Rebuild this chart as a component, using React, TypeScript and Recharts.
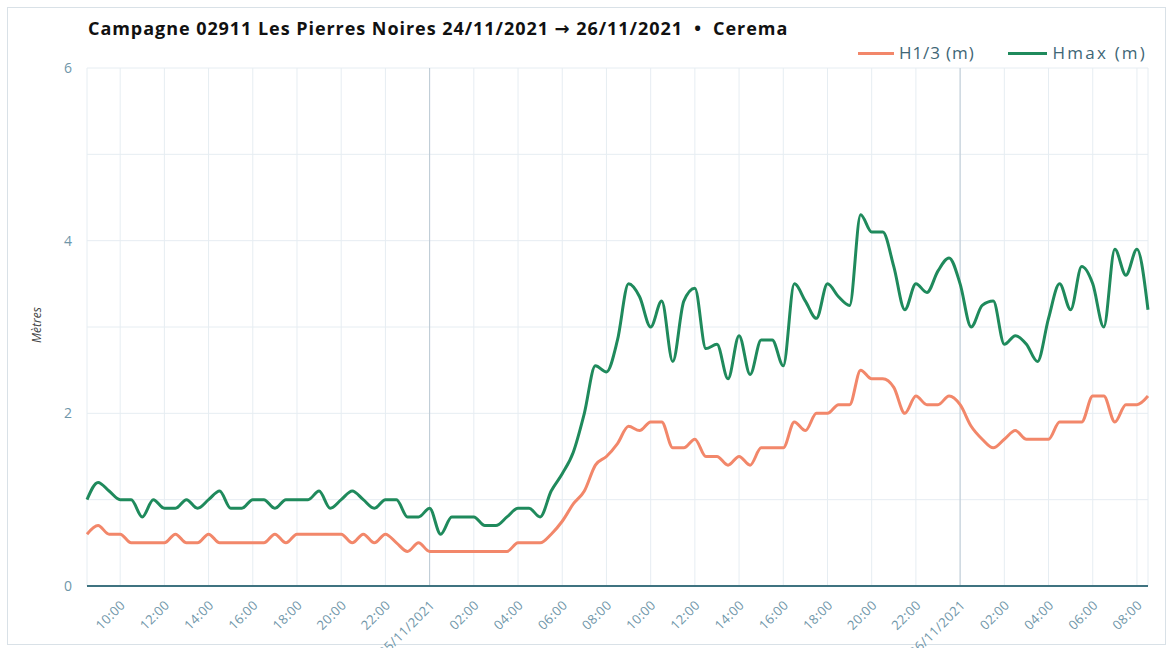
import React from 'react';
import { LineChart, Line, XAxis, YAxis, CartesianGrid, ReferenceLine } from 'recharts';

// 24/11/2021 08:30 -> 26/11/2021 08:30, one value every 30 minutes (hours since 24/11 00:00)
const startHour = 8.5;
const stepHours = 0.5;

const h13Values = [
  0.6, 0.7, 0.6, 0.6, 0.5, 0.5, 0.5, 0.5, 0.6, 0.5,
  0.5, 0.6, 0.5, 0.5, 0.5, 0.5, 0.5, 0.6, 0.5, 0.6,
  0.6, 0.6, 0.6, 0.6, 0.5, 0.6, 0.5, 0.6, 0.5, 0.4,
  0.5, 0.4, 0.4, 0.4, 0.4, 0.4, 0.4, 0.4, 0.4, 0.5,
  0.5, 0.5, 0.6, 0.75, 0.95, 1.1, 1.4, 1.5, 1.65, 1.85,
  1.8, 1.9, 1.9, 1.6, 1.6, 1.7, 1.5, 1.5, 1.4, 1.5,
  1.4, 1.6, 1.6, 1.6, 1.9, 1.8, 2.0, 2.0, 2.1, 2.1,
  2.5, 2.4, 2.4, 2.3, 2.0, 2.2, 2.1, 2.1, 2.2, 2.1,
  1.85, 1.7, 1.6, 1.7, 1.8, 1.7, 1.7, 1.7, 1.9, 1.9,
  1.9, 2.2, 2.2, 1.9, 2.1, 2.1, 2.2,
];

const hmaxValues = [
  1.0, 1.2, 1.1, 1.0, 1.0, 0.8, 1.0, 0.9, 0.9, 1.0,
  0.9, 1.0, 1.1, 0.9, 0.9, 1.0, 1.0, 0.9, 1.0, 1.0,
  1.0, 1.1, 0.9, 1.0, 1.1, 1.0, 0.9, 1.0, 1.0, 0.8,
  0.8, 0.9, 0.6, 0.8, 0.8, 0.8, 0.7, 0.7, 0.8, 0.9,
  0.9, 0.8, 1.1, 1.3, 1.55, 2.0, 2.55, 2.48, 2.85, 3.5,
  3.35, 3.0, 3.3, 2.6, 3.3, 3.45, 2.75, 2.8, 2.4, 2.9,
  2.45, 2.85, 2.85, 2.55, 3.5, 3.3, 3.1, 3.5, 3.35, 3.25,
  4.3, 4.1, 4.1, 3.7, 3.2, 3.5, 3.4, 3.65, 3.8, 3.5,
  3.0, 3.25, 3.3, 2.8, 2.9, 2.8, 2.6, 3.1, 3.5, 3.2,
  3.7, 3.5, 3.0, 3.9, 3.6, 3.9, 3.2,
];

const tickHours = [10, 12, 14, 16, 18, 20, 22, 24, 26, 28, 30, 32, 34, 36, 38, 40, 42, 44, 46, 48, 50, 52, 54, 56];
const tickLabels = [
  '10:00', '12:00', '14:00', '16:00', '18:00', '20:00', '22:00', '25/11/2021',
  '02:00', '04:00', '06:00', '08:00', '10:00', '12:00', '14:00', '16:00', '18:00', '20:00', '22:00', '26/11/2021',
  '02:00', '04:00', '06:00', '08:00',
];
const yTicks = [0, 2, 4, 6];
const dayBoundaries = [24, 48];

const data = h13Values.map((v, i) => ({
  t: startHour + i * stepHours,
  h13: v,
  hmax: hmaxValues[i],
}));

const FONT = '"Open Sans", "DejaVu Sans", sans-serif';
const ORANGE = '#f2876a';
const GREEN = '#1f8a5c';
const TICK = '#6f96a9';

const XTick = (props: any) => {
  const { x, y, payload } = props;
  const idx = tickHours.indexOf(payload.value);
  const label = idx >= 0 ? tickLabels[idx] : '';
  const ax = x + 6;
  const ay = y + 12;
  return (
    <text
      x={ax}
      y={ay}
      transform={`rotate(-45 ${ax} ${ay})`}
      textAnchor="end"
      fill={TICK}
      fontSize={13}
      letterSpacing={0.4}
      fontFamily={FONT}
    >
      {label}
    </text>
  );
};

export default function App() {
  return (
    <div style={{ position: 'absolute', left: 0, top: 0, width: 1171, height: 648, background: '#fff', overflow: 'hidden' }}>
      <div style={{ position: 'absolute', left: 7, top: 7, width: 1157, height: 636, border: '1px solid #d9e1e7' }} />
      <div
        style={{
          position: 'absolute', left: 88, top: 15, fontFamily: FONT, fontWeight: 700, fontSize: 18,
          letterSpacing: 0.95, color: '#111', whiteSpace: 'pre', lineHeight: '26px',
        }}
      >
        {'Campagne 02911 Les Pierres Noires 24/11/2021 \u2192 26/11/2021  \u2022  Cerema'}
      </div>
      <div style={{ position: 'absolute', left: 858, top: 42, display: 'flex', alignItems: 'center', fontFamily: FONT, fontSize: 17, letterSpacing: 0.9, color: '#3e6676', lineHeight: '22px' }}>
        <span style={{ display: 'inline-block', width: 36, height: 3, background: ORANGE, marginRight: 5 }} />
        <span>H1/3 (m)</span>
        <span style={{ display: 'inline-block', width: 39, height: 3, background: GREEN, marginLeft: 33, marginRight: 6 }} />
        <span style={{ letterSpacing: 2.2 }}>Hmax (m)</span>
      </div>
      <div
        style={{
          position: 'absolute', left: 36, top: 325, transform: 'translate(-50%, -50%) rotate(-90deg)',
          fontFamily: FONT, fontStyle: 'italic', fontSize: 12, color: '#444',
        }}
      >
        Mètres
      </div>
      <LineChart
        width={1171}
        height={648}
        data={data}
        margin={{ top: 68, right: 23, left: 0, bottom: 0 }}
        style={{ position: 'absolute', left: 0, top: 0 }}
      >
        <CartesianGrid stroke="#e6edf2" horizontalValues={[0, 1, 2, 3, 4, 5, 6]} />
        {dayBoundaries.map((d) => (
          <ReferenceLine key={d} x={d} stroke="#bccad4" strokeWidth={1} />
        ))}
        <XAxis
          dataKey="t"
          type="number"
          domain={[startHour, startHour + (h13Values.length - 1) * stepHours]}
          ticks={tickHours}
          interval={0}
          height={62}
          tick={<XTick />}
          tickLine={false}
          axisLine={{ stroke: '#3f7380', strokeWidth: 2 }}
        />
        <YAxis
          type="number"
          domain={[0, 6]}
          ticks={yTicks}
          width={87}
          axisLine={false}
          tickLine={false}
          tickMargin={9}
          tick={{ fill: TICK, fontSize: 14, fontFamily: FONT }}
        />
        <Line type="monotone" dataKey="h13" stroke={ORANGE} strokeWidth={3} dot={false} isAnimationActive={false} />
        <Line type="monotone" dataKey="hmax" stroke={GREEN} strokeWidth={3} dot={false} isAnimationActive={false} />
      </LineChart>
    </div>
  );
}
